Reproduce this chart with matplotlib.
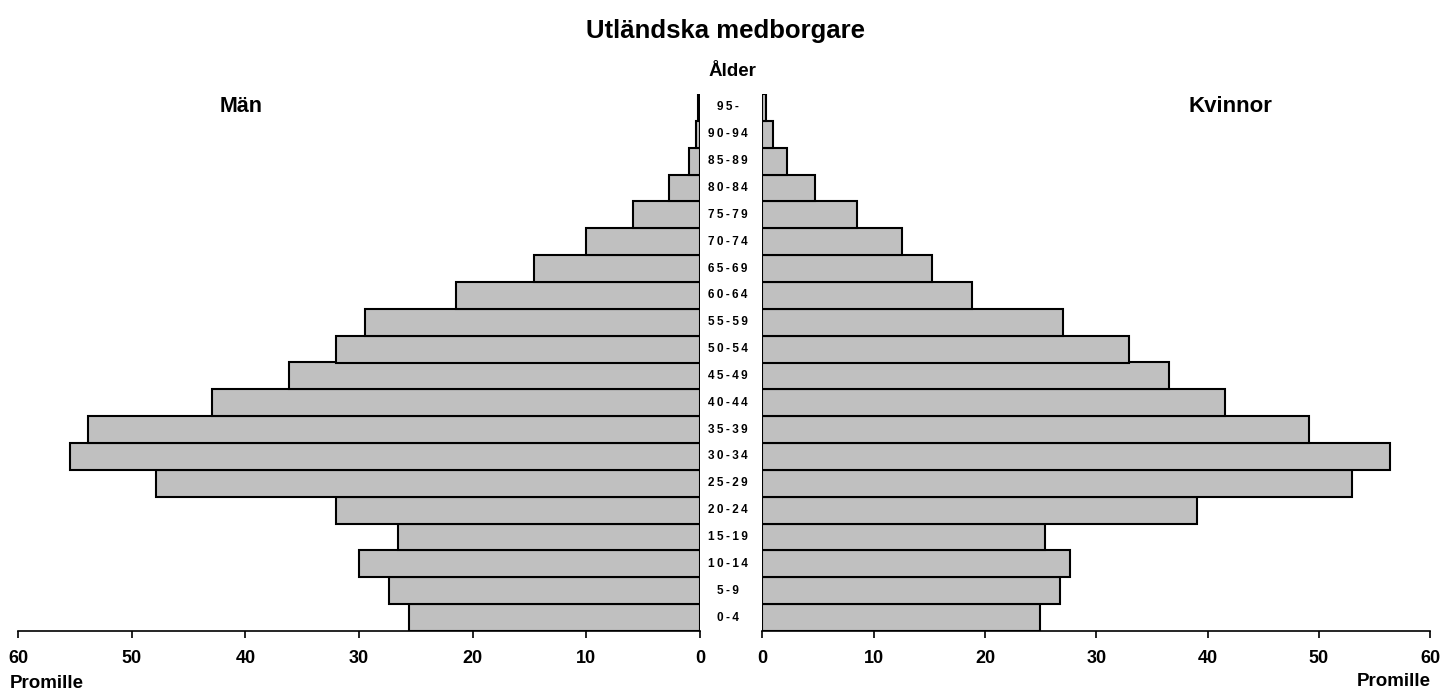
import matplotlib
matplotlib.use("Agg")
import matplotlib.pyplot as plt

plt.rcParams['font.family'] = ['Liberation Sans', 'DejaVu Sans']

age_groups = ["0-4", "5-9", "10-14", "15-19", "20-24", "25-29", "30-34", "35-39",
              "40-44", "45-49", "50-54", "55-59", "60-64", "65-69", "70-74", "75-79",
              "80-84", "85-89", "90-94", "95-"]
men = [25.6, 27.4, 30.0, 26.6, 32.0, 47.9, 55.4, 53.8, 42.9, 36.2,
       32.0, 29.5, 21.5, 14.6, 10.0, 5.9, 2.75, 1.0, 0.35, 0.2]
women = [24.9, 26.7, 27.6, 25.4, 39.1, 53.0, 56.4, 49.1, 41.6, 36.5,
         32.9, 27.0, 18.8, 15.2, 12.5, 8.5, 4.75, 2.2, 0.9, 0.3]
xticks = [0, 10, 20, 30, 40, 50, 60]

fig = plt.figure(figsize=(14.4, 6.9), dpi=100)
axL = fig.add_axes([18/1440, 1-631/690, 682/1440, 537/690])
axR = fig.add_axes([762.5/1440, 1-631/690, 667.5/1440, 537/690])

ypos = list(range(len(age_groups)))
for ax, vals in ((axL, men), (axR, women)):
    ax.barh(ypos, vals, height=1.0, color='#c0c0c0', edgecolor='black', linewidth=1.5)
    ax.set_ylim(-0.5, len(age_groups) - 0.5)
    ax.set_xlim(0, 60)
    ax.set_xticks(xticks)
    ax.set_xticklabels([str(t) for t in xticks], fontsize=13, fontweight='bold')
    ax.set_yticks([])
    for s in ('top', 'right', 'left'):
        ax.spines[s].set_visible(False)
    ax.spines['bottom'].set_linewidth(1.2)
    ax.tick_params(axis='x', length=5, width=1.2, pad=9, direction='out')
    ax.patch.set_alpha(0)

axL.invert_xaxis()

# age labels in the middle
for i, lab in enumerate(age_groups):
    axR.annotate('\u2009'.join(lab), xy=(0, i), xycoords='data',
                 xytext=(-34.5, 0), textcoords='offset pixels',
                 ha='center', va='center', fontsize=8.5, fontweight='bold',
                 annotation_clip=False)

fig.text(726/1440, 1-31/690, 'Utländska medborgare', ha='center', va='center',
         fontsize=18.5, fontweight='bold')
fig.text(732/1440, 1-71/690, 'Ålder', ha='center', va='center',
         fontsize=13.5, fontweight='bold')
fig.text(241/1440, 1-107/690, 'Män', ha='center', va='center',
         fontsize=15.5, fontweight='bold')
fig.text(1230/1440, 1-107/690, 'Kvinnor', ha='center', va='center',
         fontsize=16, fontweight='bold')
fig.text(10/1440, 1-683/690, 'Promille', ha='left', va='center',
         fontsize=13.5, fontweight='bold')
fig.text(1431/1440, 1-681/690, 'Promille', ha='right', va='center',
         fontsize=13.5, fontweight='bold')

fig.savefig('out.png', dpi=100)
